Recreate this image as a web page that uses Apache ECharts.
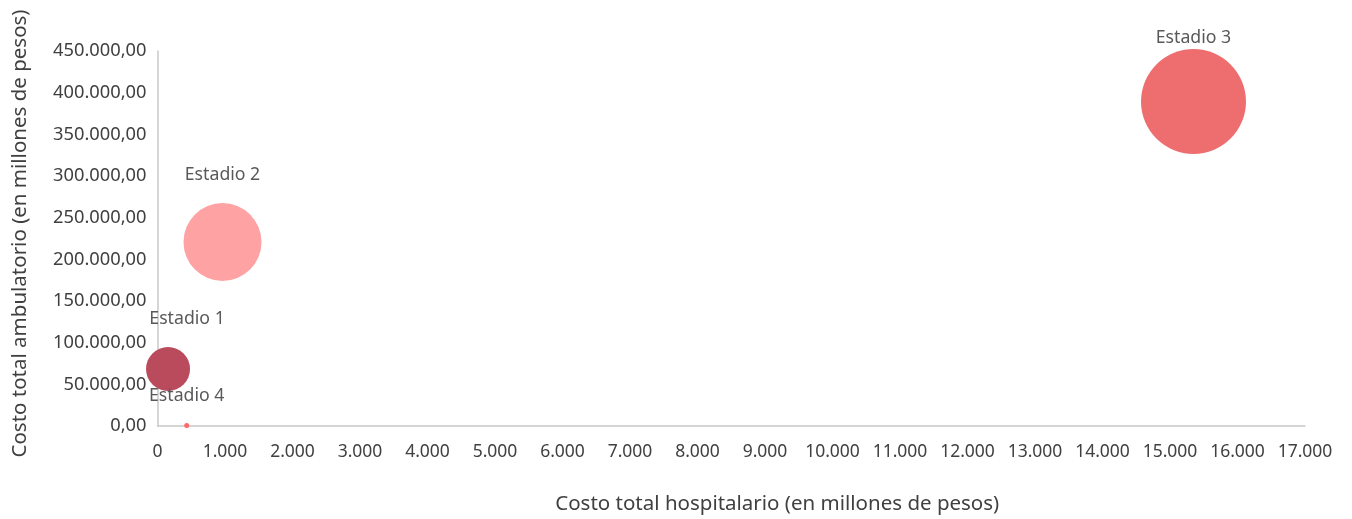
<!DOCTYPE html>
<html>
<head>
<meta charset="utf-8">
<script src="https://cdn.jsdelivr.net/npm/echarts@6/dist/echarts.min.js"></script>
<style>
html,body{margin:0;padding:0;background:#fff;}
#c{width:1352px;height:519px;}
</style>
</head>
<body>
<div id="c"></div>
<script>
// Data
const stages = ['Estadio 1', 'Estadio 2', 'Estadio 3', 'Estadio 4'];
const hospitalCost = [156, 963, 15348, 433];          // x: millones de pesos
const ambulatoryCost = [68400, 220800, 389400, 500];  // y: millones de pesos
const bubbleSize = [48400, 152100, 275600, 625];      // relative bubble size (area)

// Styles
const palette = ['#B94B5D', '#FFA2A3', '#EE6E70', '#FF6868'];
const labelOffsets = [[19, -50], [0, -67], [0, -64], [0, -30]];
const FONT = '"Noto Sans", sans-serif';

function fmtY(v){
  const s = Math.round(v).toString().replace(/\B(?=(\d{3})+(?!\d))/g, '.');
  return s + ',00';
}
function fmtX(v){
  return Math.round(v).toString().replace(/\B(?=(\d{3})+(?!\d))/g, '.');
}

const data = stages.map((name, i) => ({
  name: name,
  value: [hospitalCost[i], ambulatoryCost[i], bubbleSize[i]],
  symbolSize: Math.sqrt(bubbleSize[i]) / 10 * 2,
  itemStyle: { color: palette[i], opacity: 1 },
  label: { offset: labelOffsets[i] }
}));

const chart = echarts.init(document.getElementById('c'), null, {renderer: 'canvas'});
chart.setOption({
  animation: false,
  textStyle: { fontFamily: FONT },
  grid: { left: 157.5, right: 47, top: 51, bottom: 93, containLabel: false, outerBoundsMode: 'none' },
  xAxis: {
    type: 'value', min: 0, max: 17000, interval: 1000,
    name: 'Costo total hospitalario (en millones de pesos)',
    nameLocation: 'middle', nameGap: 68,
    nameTextStyle: { fontSize: 20.5, color: '#404040', fontFamily: FONT, padding: [0, 0, 0, 92] },
    axisLine: { show: true, lineStyle: { color: '#C8C8C8', width: 1.5 } },
    axisTick: { show: false },
    splitLine: { show: false },
    axisLabel: { formatter: fmtX, fontSize: 17.5, color: '#404040', margin: 17, fontFamily: FONT }
  },
  yAxis: {
    type: 'value', min: 0, max: 450000, interval: 50000,
    name: 'Costo total ambulatorio (en millones de pesos)',
    nameLocation: 'middle', nameGap: 127, nameRotate: 90,
    nameTextStyle: { fontSize: 20.5, color: '#404040', fontFamily: FONT, padding: [0, 0, 0, 10] },
    axisLine: { show: true, lineStyle: { color: '#C8C8C8', width: 1.5 } },
    axisTick: { show: false },
    splitLine: { show: false },
    axisLabel: { formatter: fmtY, fontSize: 18.3, color: '#404040', margin: 11, fontFamily: FONT }
  },
  series: [{
    type: 'scatter',
    data: data,
    label: {
      show: true,
      position: 'inside',
      formatter: p => p.name,
      fontSize: 17.7,
      color: '#595959',
      fontFamily: FONT
    }
  }]
});
</script>
</body>
</html>
